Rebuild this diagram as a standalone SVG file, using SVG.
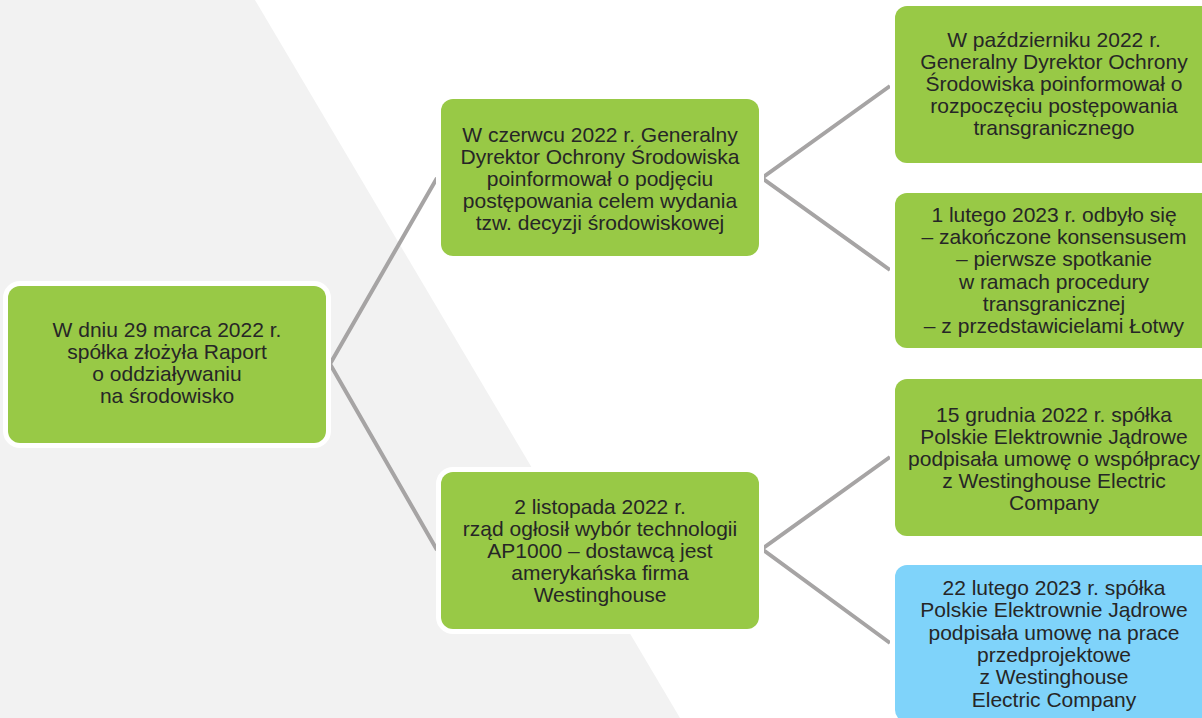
<svg xmlns="http://www.w3.org/2000/svg" width="1202" height="718" viewBox="0 0 1202 718">
<style>
.box{fill:#98c946;stroke:#ffffff;stroke-width:10;paint-order:stroke}
.blue{fill:#7fd3fa}
.t{font-family:"Liberation Sans",Arial,sans-serif;font-size:21px;fill:#262626;text-anchor:middle}
.c{fill:none;stroke:#a6a4a4;stroke-width:4;stroke-linejoin:miter}
</style>
<rect width="1202" height="718" fill="#ffffff"/>
<polygon points="0,0 255,0 680,718 0,718" fill="#f2f2f2"/>
<g id="connectors">
<polyline class="c" points="437,178 330,364 437,550"/>
<polyline class="c" points="890,86 762,178 890,270"/>
<polyline class="c" points="890,457 762,549 890,643"/>
</g>
<g id="root">
<rect class="box" x="8" y="286" width="318" height="157" rx="12"/>
<text class="t" x="167" y="337"><tspan x="167">W dniu 29 marca 2022 r.</tspan><tspan x="167" dy="22">spółka złożyła Raport</tspan><tspan x="167" dy="22">o oddziaływaniu</tspan><tspan x="167" dy="22">na środowisko</tspan></text>
</g>
<g id="june">
<rect class="box" x="441" y="99" width="318" height="157" rx="12"/>
<text class="t" x="600" y="142"><tspan x="600">W czerwcu 2022 r. Generalny</tspan><tspan x="600" dy="22">Dyrektor Ochrony Środowiska</tspan><tspan x="600" dy="22">poinformował o podjęciu</tspan><tspan x="600" dy="22">postępowania celem wydania</tspan><tspan x="600" dy="22">tzw. decyzji środowiskowej</tspan></text>
</g>
<g id="november">
<rect class="box" x="441" y="472" width="318" height="157" rx="12"/>
<text class="t" x="600" y="514"><tspan x="600">2 listopada 2022 r.</tspan><tspan x="600" dy="22">rząd ogłosił wybór technologii</tspan><tspan x="600" dy="22">AP1000 – dostawcą jest</tspan><tspan x="600" dy="22">amerykańska firma</tspan><tspan x="600" dy="22">Westinghouse</tspan></text>
</g>
<g id="october">
<rect class="box" x="895" y="6" width="318" height="157" rx="12"/>
<text class="t" x="1054" y="47"><tspan x="1054">W październiku 2022 r.</tspan><tspan x="1054" dy="22">Generalny Dyrektor Ochrony</tspan><tspan x="1054" dy="22">Środowiska poinformował o</tspan><tspan x="1054" dy="22">rozpoczęciu postępowania</tspan><tspan x="1054" dy="22">transgranicznego</tspan></text>
</g>
<g id="february1">
<rect class="box" x="895" y="193" width="318" height="155" rx="12"/>
<text class="t" x="1054" y="222"><tspan x="1054">1 lutego 2023 r. odbyło się</tspan><tspan x="1054" dy="22.2">– zakończone konsensusem</tspan><tspan x="1054" dy="22.2">– pierwsze spotkanie</tspan><tspan x="1054" dy="22.2">w ramach procedury</tspan><tspan x="1054" dy="22.2">transgranicznej</tspan><tspan x="1054" dy="22.2">– z przedstawicielami Łotwy</tspan></text>
</g>
<g id="december">
<rect class="box" x="895" y="379" width="318" height="157" rx="12"/>
<text class="t" x="1054" y="422"><tspan x="1054">15 grudnia 2022 r. spółka</tspan><tspan x="1054" dy="22">Polskie Elektrownie Jądrowe</tspan><tspan x="1054" dy="22">podpisała umowę o współpracy</tspan><tspan x="1054" dy="22">z Westinghouse Electric</tspan><tspan x="1054" dy="22">Company</tspan></text>
</g>
<g id="february22">
<rect class="box blue" x="895" y="565" width="318" height="157" rx="12"/>
<text class="t" x="1054" y="595"><tspan x="1054">22 lutego 2023 r. spółka</tspan><tspan x="1054" dy="22.3">Polskie Elektrownie Jądrowe</tspan><tspan x="1054" dy="22.3">podpisała umowę na prace</tspan><tspan x="1054" dy="22.3">przedprojektowe</tspan><tspan x="1054" dy="22.3">z Westinghouse</tspan><tspan x="1054" dy="22.3">Electric Company</tspan></text>
</g>
</svg>
